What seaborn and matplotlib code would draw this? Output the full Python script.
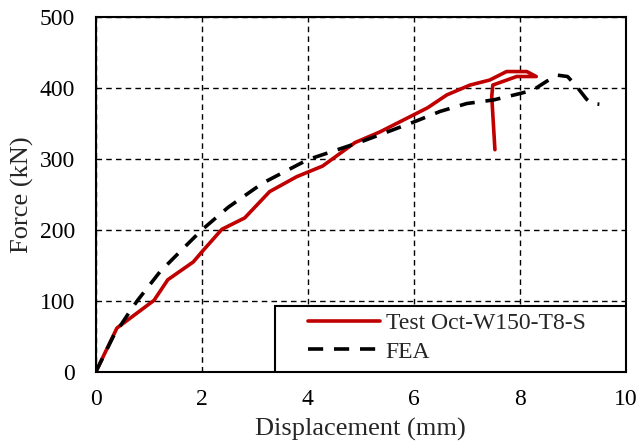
import matplotlib
matplotlib.use("Agg")
import matplotlib.pyplot as plt
from matplotlib.patches import Rectangle
import seaborn as sns
import pandas as pd

test_disp = [0, 0.4, 1.1, 1.36, 1.84, 2.0, 2.38, 2.81, 3.28, 3.79, 4.28, 4.89, 5.36, 6.26, 6.62,
             7.06, 7.43, 7.75, 8.13, 8.31, 7.94, 7.49, 7.47, 7.53]
test_force = [0, 62, 101, 130, 155, 169, 201, 217, 254, 275, 290, 323, 338, 372, 390,
              404, 411, 423, 423, 416, 416, 404, 388, 313]

fea_disp = [0, 0.33, 0.64, 0.79, 1.21, 1.65, 2.0, 2.5, 3.15, 4.0, 5.0, 6.0, 6.5, 7.0, 7.5,
            8.0, 8.25, 8.5, 8.7, 8.9, 9.07, 9.26, 9.35, 9.5]
fea_force = [0, 50, 85, 101, 141, 174, 200, 232, 266, 299, 324, 352, 367, 378, 383,
             392, 397, 409, 418, 416, 402, 384, 378, 377]

sns.set_style("white")
plt.rcParams['font.family'] = ['Liberation Serif', 'DejaVu Serif']

fig = plt.figure(figsize=(6.38, 4.43), dpi=100)
ax = fig.add_axes([0.150, 0.160, 0.831, 0.802])

df_t = pd.DataFrame({"x": test_disp, "y": test_force})
df_f = pd.DataFrame({"x": fea_disp, "y": fea_force})

sns.lineplot(data=df_t, x="x", y="y", sort=False, estimator=None, ax=ax,
             color="#C00000", lw=2.6, label="Test Oct-W150-T8-S")
sns.lineplot(data=df_f, x="x", y="y", sort=False, estimator=None, ax=ax,
             color="black", lw=2.6, ls=(0, (4.2, 3.0)), label="FEA")

ax.set_xlim(0, 10)
ax.set_ylim(0, 500)
ax.set_xticks(range(0, 11, 2))
ax.set_yticks(range(0, 501, 100))
ax.grid(True, color="black", ls=(0, (4, 3)), lw=1.0)
ax.set_axisbelow(True)
for s in ax.spines.values():
    s.set_color("black")
    s.set_linewidth(1.5)
ax.tick_params(axis="both", length=0, labelsize=17, colors="black")
ax.tick_params(axis="x", pad=12)
ax.tick_params(axis="y", pad=15)
ax.set_xlabel("Displacement (mm)", fontsize=19, labelpad=6)
ax.set_ylabel("Force (kN)", fontsize=19, labelpad=4)

# legend frame
ax.add_patch(Rectangle((0.338, 0.0), 0.662, 0.186, transform=ax.transAxes,
                       facecolor="white", edgecolor="black", lw=1.5, zorder=4.5))
leg = ax.legend(loc="center left", bbox_to_anchor=(0.40, 0.097), frameon=False,
                fontsize=17, handlelength=3.05, borderpad=0.0, labelspacing=0.3,
                handletextpad=0.25, borderaxespad=0.0)
leg.set_zorder(5)

fig.savefig("out.png", dpi=100)
